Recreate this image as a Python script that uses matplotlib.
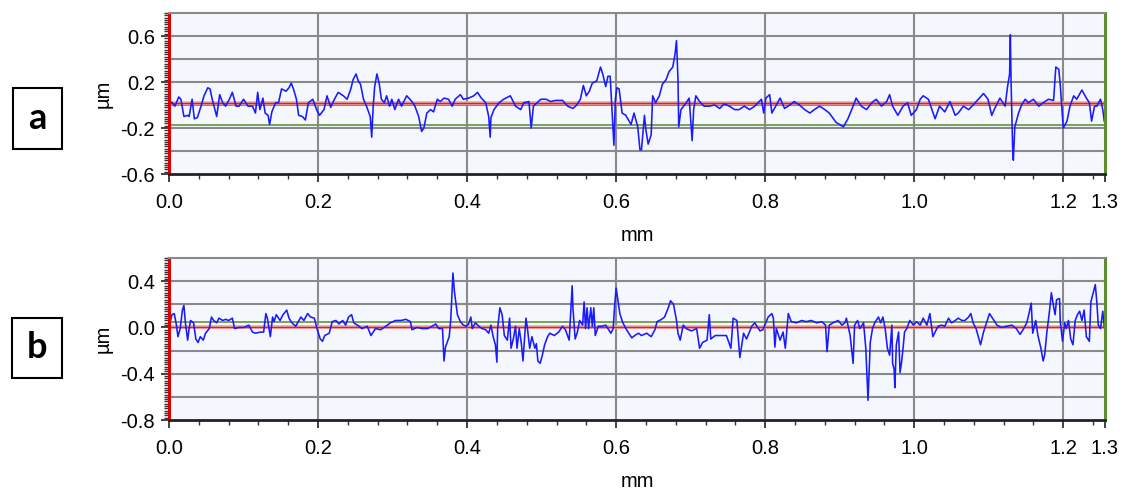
import numpy as np
import matplotlib
matplotlib.use("Agg")
import matplotlib.pyplot as plt
from matplotlib.ticker import MultipleLocator, FixedLocator
from matplotlib.patches import Rectangle

# profile a: position along the trace (mm) and height (um)
prof_a_x = [0.002, 0.004, 0.008, 0.013, 0.016, 0.020, 0.025, 0.027, 0.031, 0.034,
            0.038, 0.043, 0.047, 0.052, 0.055, 0.058, 0.064, 0.068, 0.072, 0.076,
            0.081, 0.085, 0.090, 0.094, 0.100, 0.106, 0.112, 0.116, 0.119, 0.122,
            0.126, 0.129, 0.133, 0.135, 0.138, 0.143, 0.147, 0.151, 0.157, 0.161,
            0.164, 0.167, 0.171, 0.174, 0.179, 0.183, 0.187, 0.193, 0.198, 0.202,
            0.208, 0.212, 0.217, 0.222, 0.227, 0.234, 0.239, 0.244, 0.247, 0.251,
            0.254, 0.257, 0.261, 0.265, 0.270, 0.272, 0.274, 0.276, 0.279, 0.282,
            0.285, 0.289, 0.292, 0.296, 0.299, 0.303, 0.308, 0.312, 0.319, 0.326,
            0.330, 0.335, 0.339, 0.342, 0.346, 0.351, 0.355, 0.360, 0.364, 0.369,
            0.375, 0.380, 0.384, 0.391, 0.395, 0.402, 0.409, 0.414, 0.419, 0.425,
            0.429, 0.431, 0.432, 0.436, 0.443, 0.449, 0.458, 0.465, 0.472, 0.476,
            0.483, 0.486, 0.489, 0.494, 0.499, 0.506, 0.512, 0.519, 0.528, 0.535,
            0.542, 0.547, 0.552, 0.556, 0.560, 0.564, 0.568, 0.574, 0.579, 0.582,
            0.586, 0.589, 0.592, 0.595, 0.597, 0.599, 0.601, 0.604, 0.608, 0.613,
            0.620, 0.624, 0.629, 0.632, 0.634, 0.638, 0.640, 0.643, 0.647, 0.649,
            0.653, 0.658, 0.662, 0.667, 0.671, 0.676, 0.679, 0.681, 0.683, 0.684,
            0.687, 0.694, 0.698, 0.702, 0.704, 0.707, 0.712, 0.718, 0.725, 0.732,
            0.739, 0.745, 0.752, 0.759, 0.765, 0.772, 0.779, 0.786, 0.795, 0.798,
            0.801, 0.806, 0.809, 0.814, 0.820, 0.826, 0.833, 0.839, 0.846, 0.853,
            0.860, 0.866, 0.873, 0.880, 0.886, 0.895, 0.900, 0.905, 0.911, 0.918,
            0.922, 0.929, 0.936, 0.943, 0.949, 0.956, 0.963, 0.967, 0.971, 0.978,
            0.985, 0.991, 0.996, 1.003, 1.008, 1.012, 1.019, 1.028, 1.034, 1.041,
            1.048, 1.055, 1.059, 1.066, 1.073, 1.079, 1.086, 1.093, 1.099, 1.104,
            1.108, 1.115, 1.122, 1.125, 1.128, 1.129, 1.130, 1.132, 1.133, 1.135,
            1.140, 1.144, 1.149, 1.153, 1.160, 1.167, 1.173, 1.180, 1.187, 1.190,
            1.194, 1.196, 1.200, 1.205, 1.209, 1.214, 1.218, 1.225, 1.231, 1.235,
            1.238, 1.242, 1.245, 1.250, 1.253, 1.255]
prof_a_z = [0.03, 0.02, -0.01, 0.07, 0.05, -0.10, -0.09, -0.10, 0.05, -0.12,
            -0.11, -0.01, 0.08, 0.15, 0.14, 0.05, -0.10, 0.09, 0.02, -0.01,
            0.05, 0.11, -0.01, -0.01, 0.05, -0.01, -0.01, -0.07, 0.11, -0.04,
            0.06, -0.07, -0.09, -0.17, -0.06, 0.02, 0.02, 0.14, 0.12, 0.15,
            0.19, 0.14, 0.05, -0.09, -0.10, -0.13, 0.02, 0.05, -0.04, -0.09,
            -0.04, 0.08, -0.02, 0.05, 0.11, 0.08, 0.05, 0.14, 0.22, 0.27,
            0.21, 0.18, 0.05, -0.01, -0.10, -0.28, -0.01, 0.16, 0.27, 0.19,
            0.05, 0.02, 0.08, -0.01, 0.05, -0.04, 0.05, -0.01, 0.08, 0.03,
            -0.01, -0.10, -0.23, -0.20, -0.07, -0.04, -0.06, 0.05, 0.03, 0.06,
            0.05, -0.01, 0.05, 0.09, 0.05, 0.06, 0.08, 0.11, 0.06, 0.02,
            -0.10, -0.28, -0.11, -0.04, 0.02, 0.05, 0.08, -0.01, -0.04, 0.02,
            0.03, -0.20, -0.01, 0.02, 0.05, 0.05, 0.03, 0.04, 0.04, -0.01,
            -0.03, 0.00, 0.05, 0.17, 0.08, 0.12, 0.19, 0.21, 0.33, 0.27,
            0.16, 0.25, 0.25, -0.10, -0.35, 0.05, 0.15, 0.14, -0.07, -0.09,
            -0.17, -0.07, -0.19, -0.39, -0.39, -0.09, -0.22, -0.34, -0.26, 0.08,
            0.02, 0.08, 0.18, 0.22, 0.29, 0.33, 0.44, 0.56, 0.22, -0.19,
            -0.04, 0.02, 0.06, -0.31, -0.04, 0.08, 0.03, -0.01, -0.01, 0.00,
            -0.03, 0.01, -0.01, -0.04, -0.04, -0.01, -0.04, -0.01, 0.05, -0.07,
            0.06, 0.09, -0.07, -0.01, 0.06, -0.03, 0.00, 0.03, 0.00, -0.04,
            -0.07, -0.04, -0.01, -0.04, -0.07, -0.15, -0.17, -0.19, -0.12, -0.01,
            0.06, -0.01, -0.04, 0.02, 0.05, -0.01, 0.03, 0.09, -0.01, -0.09,
            -0.01, 0.02, -0.09, -0.04, 0.05, 0.08, 0.05, -0.12, -0.01, -0.06,
            0.03, -0.09, -0.07, -0.01, -0.04, 0.00, 0.05, 0.10, 0.05, -0.09,
            -0.03, 0.06, -0.01, 0.15, 0.27, 0.61, 0.19, -0.36, -0.48, -0.19,
            -0.07, 0.00, 0.05, 0.02, 0.05, -0.01, 0.02, 0.05, 0.04, 0.33,
            0.31, 0.17, -0.20, -0.14, -0.01, 0.08, 0.05, 0.13, 0.06, 0.02,
            -0.14, -0.01, -0.01, 0.05, -0.04, -0.14]

# profile b
prof_b_x = [0.002, 0.004, 0.007, 0.010, 0.012, 0.015, 0.018, 0.020, 0.022, 0.025,
            0.027, 0.029, 0.033, 0.036, 0.039, 0.042, 0.046, 0.049, 0.054, 0.057,
            0.060, 0.064, 0.067, 0.072, 0.076, 0.080, 0.085, 0.088, 0.094, 0.101,
            0.107, 0.112, 0.116, 0.123, 0.127, 0.130, 0.132, 0.136, 0.139, 0.141,
            0.144, 0.149, 0.153, 0.158, 0.161, 0.165, 0.170, 0.177, 0.181, 0.186,
            0.190, 0.195, 0.199, 0.203, 0.206, 0.209, 0.215, 0.219, 0.224, 0.228,
            0.233, 0.237, 0.241, 0.245, 0.248, 0.255, 0.259, 0.266, 0.271, 0.277,
            0.284, 0.291, 0.297, 0.304, 0.311, 0.318, 0.324, 0.326, 0.333, 0.340,
            0.347, 0.353, 0.358, 0.362, 0.367, 0.368, 0.369, 0.371, 0.376, 0.378,
            0.380, 0.381, 0.383, 0.387, 0.391, 0.395, 0.399, 0.402, 0.405, 0.407,
            0.411, 0.416, 0.420, 0.425, 0.429, 0.432, 0.435, 0.438, 0.440, 0.441,
            0.444, 0.447, 0.450, 0.454, 0.457, 0.459, 0.462, 0.465, 0.467, 0.470,
            0.473, 0.475, 0.479, 0.481, 0.484, 0.487, 0.491, 0.493, 0.495, 0.498,
            0.501, 0.504, 0.508, 0.511, 0.517, 0.523, 0.528, 0.532, 0.537, 0.539,
            0.541, 0.542, 0.545, 0.548, 0.551, 0.555, 0.557, 0.559, 0.561, 0.563,
            0.566, 0.568, 0.570, 0.572, 0.576, 0.581, 0.586, 0.590, 0.593, 0.596,
            0.598, 0.600, 0.602, 0.605, 0.609, 0.614, 0.621, 0.625, 0.630, 0.634,
            0.641, 0.647, 0.652, 0.655, 0.661, 0.665, 0.670, 0.673, 0.677, 0.681,
            0.683, 0.686, 0.690, 0.694, 0.701, 0.708, 0.712, 0.716, 0.722, 0.725,
            0.727, 0.733, 0.739, 0.748, 0.754, 0.757, 0.762, 0.766, 0.771, 0.775,
            0.782, 0.786, 0.793, 0.797, 0.804, 0.809, 0.811, 0.813, 0.815, 0.820,
            0.824, 0.827, 0.831, 0.835, 0.842, 0.849, 0.855, 0.862, 0.869, 0.876,
            0.881, 0.883, 0.886, 0.891, 0.898, 0.903, 0.907, 0.909, 0.914, 0.918,
            0.920, 0.924, 0.927, 0.932, 0.935, 0.937, 0.938, 0.941, 0.944, 0.947,
            0.952, 0.955, 0.958, 0.961, 0.964, 0.967, 0.970, 0.971, 0.973, 0.974,
            0.976, 0.979, 0.981, 0.983, 0.985, 0.987, 0.990, 0.994, 0.999, 1.003,
            1.008, 1.012, 1.017, 1.021, 1.025, 1.028, 1.032, 1.037, 1.041, 1.046,
            1.050, 1.055, 1.059, 1.064, 1.068, 1.073, 1.076, 1.079, 1.083, 1.086,
            1.089, 1.093, 1.097, 1.101, 1.105, 1.111, 1.117, 1.124, 1.131, 1.137,
            1.142, 1.146, 1.151, 1.154, 1.157, 1.159, 1.163, 1.166, 1.170, 1.173,
            1.175, 1.178, 1.180, 1.182, 1.184, 1.187, 1.189, 1.191, 1.195, 1.196,
            1.199, 1.202, 1.204, 1.207, 1.210, 1.213, 1.216, 1.219, 1.222, 1.225,
            1.228, 1.231, 1.235, 1.237, 1.239, 1.243, 1.245, 1.247, 1.250, 1.253,
            1.255]
prof_b_z = [0.06, 0.11, 0.12, 0.02, -0.08, -0.01, 0.15, 0.19, 0.04, -0.11,
            -0.01, 0.06, 0.04, -0.10, -0.13, -0.08, -0.11, -0.05, -0.01, 0.09,
            0.06, 0.04, 0.08, 0.06, 0.07, 0.06, 0.08, -0.01, 0.00, 0.00,
            0.02, -0.04, -0.05, -0.04, -0.04, 0.12, 0.08, -0.08, 0.09, 0.05,
            0.11, 0.06, 0.11, 0.15, 0.08, 0.04, 0.01, 0.09, 0.06, 0.12,
            0.09, 0.08, -0.02, -0.10, -0.12, -0.07, -0.05, 0.05, 0.06, 0.03,
            0.06, 0.02, 0.09, 0.11, 0.04, 0.01, -0.01, 0.01, -0.07, -0.01,
            -0.02, 0.01, 0.04, 0.06, 0.06, 0.07, 0.05, -0.02, 0.00, -0.01,
            -0.01, 0.01, 0.03, -0.01, -0.01, -0.15, -0.29, -0.17, -0.08, 0.06,
            0.34, 0.47, 0.31, 0.11, 0.05, 0.02, 0.01, 0.03, 0.09, -0.01,
            0.04, 0.01, -0.01, -0.02, -0.05, 0.02, -0.08, -0.15, -0.30, -0.01,
            0.17, 0.11, -0.07, -0.11, 0.08, -0.18, -0.10, 0.01, -0.18, -0.01,
            -0.15, -0.29, 0.08, -0.01, -0.18, -0.08, -0.18, -0.14, -0.29, -0.31,
            -0.24, -0.15, -0.08, -0.05, -0.07, -0.04, 0.01, -0.02, -0.11, 0.12,
            0.36, 0.17, -0.10, -0.04, 0.06, 0.02, 0.22, -0.01, 0.17, -0.01,
            0.17, 0.01, 0.17, -0.07, 0.01, 0.01, 0.02, -0.02, -0.05, -0.01,
            0.19, 0.34, 0.25, 0.12, 0.04, -0.02, -0.09, -0.07, -0.05, -0.07,
            -0.05, -0.08, -0.02, 0.05, 0.07, 0.09, 0.17, 0.23, 0.20, 0.06,
            -0.05, -0.11, 0.02, -0.01, -0.03, -0.01, -0.18, -0.13, -0.11, 0.11,
            -0.10, -0.07, -0.07, -0.07, -0.18, 0.08, 0.06, -0.26, -0.05, -0.10,
            0.01, 0.04, -0.03, -0.02, 0.09, 0.12, 0.08, -0.17, -0.01, -0.11,
            -0.04, -0.18, 0.12, 0.05, 0.04, 0.06, 0.05, 0.06, 0.04, 0.05,
            0.02, -0.21, 0.02, 0.04, 0.06, 0.02, 0.04, 0.08, -0.07, -0.31,
            0.02, 0.06, -0.01, 0.04, -0.18, -0.47, -0.63, -0.13, -0.01, 0.04,
            0.09, 0.04, 0.09, -0.01, -0.18, -0.24, 0.02, -0.31, -0.36, -0.52,
            -0.15, -0.04, -0.39, -0.30, -0.18, -0.04, -0.01, 0.06, 0.02, 0.05,
            0.02, 0.08, 0.02, 0.12, -0.08, -0.04, 0.01, 0.02, 0.01, 0.08,
            0.04, 0.06, 0.08, 0.06, 0.06, 0.09, 0.12, 0.04, -0.01, -0.08,
            -0.15, -0.04, 0.04, 0.12, 0.08, 0.02, 0.00, 0.01, 0.02, -0.01,
            -0.06, -0.02, 0.04, 0.12, 0.21, -0.05, 0.06, -0.07, -0.18, -0.29,
            -0.24, -0.04, 0.06, 0.17, 0.30, 0.18, 0.11, 0.24, 0.25, 0.05,
            -0.12, 0.04, -0.01, 0.06, -0.10, -0.15, 0.06, 0.11, 0.14, 0.06,
            0.15, -0.08, -0.12, 0.22, 0.27, 0.37, 0.22, 0.02, -0.01, 0.14,
            0.01]

# red / green reference levels for each profile (um)
ref_a = [0.02, -0.17]
ref_b = [0.0, 0.05]

x_end = 1.256
xtick_vals = [0.0, 0.2, 0.4, 0.6, 0.8, 1.0, 1.2, x_end]
xtick_text = ["0.0", "0.2", "0.4", "0.6", "0.8", "1.0", "1.2", "1.3"]

ylim_a = (-0.6, 0.8)
ytick_a = [-0.6, -0.2, 0.2, 0.6]
ylim_b = (-0.8, 0.6)
ytick_b = [-0.8, -0.4, 0.0, 0.4]

W, H = 1126, 492
plt.rcParams["font.family"] = ["Liberation Sans", "DejaVu Sans"]
plt.rcParams["axes.unicode_minus"] = False
FS = 14.5


def px_box(left, top, right, bottom):
    # pixel box -> figure fraction [x0, y0, w, h]
    return [left / W, (H - bottom) / H, (right - left) / W, (bottom - top) / H]


def draw_profile(ax, x, z, ylim, yticks, refs):
    ax.set_facecolor("#f4f8fe")
    ax.set_xlim(0, x_end)
    ax.set_ylim(*ylim)

    # horizontal grid every 0.2 um
    for g in np.arange(ylim[0] + 0.2, ylim[1] - 0.01, 0.2):
        ax.axhline(g, color="#8a8a8a", lw=1.5, zorder=1)
    for g in xtick_vals[1:-1]:
        ax.axvline(g, color="#8a8a8a", lw=1.5, zorder=1)

    # reference lines
    ax.axhline(refs[0], color="#f5a5a5", lw=2.6, zorder=2)
    ax.axhline(refs[0], color="#e02020", lw=1.0, zorder=2)
    ax.axhline(refs[1], color="#6f9c4c", lw=1.3, zorder=2)

    ax.plot(x, z, color="#1a1aff", lw=1.15, zorder=3)

    ax.xaxis.set_major_locator(FixedLocator(xtick_vals))
    ax.set_xticklabels(xtick_text)
    ax.xaxis.set_minor_locator(MultipleLocator(0.04))
    ax.yaxis.set_major_locator(FixedLocator(yticks))
    ax.set_yticklabels(["%.1f" % v for v in yticks])
    ax.yaxis.set_minor_locator(MultipleLocator(0.02))

    ax.tick_params(axis="both", which="major", direction="out", length=6,
                   width=1.3, color="#333333", labelsize=FS, pad=4)
    ax.tick_params(axis="both", which="minor", direction="out", length=3.5,
                   width=1.0, color="#333333")
    ax.tick_params(axis="x", which="major", pad=8)

    ax.spines["left"].set_color("#e00000")
    ax.spines["left"].set_linewidth(2.2)
    ax.spines["right"].set_color("#5e8c30")
    ax.spines["right"].set_linewidth(2.2)
    ax.spines["top"].set_color("#8a8a8a")
    ax.spines["top"].set_linewidth(1.5)
    ax.spines["bottom"].set_color("#222222")
    ax.spines["bottom"].set_linewidth(2.0)
    for s in ax.spines.values():
        s.set_zorder(4)

    ax.set_xlabel("mm", fontsize=FS, labelpad=9.5)
    ax.set_ylabel("µm", fontsize=FS, labelpad=6)


fig = plt.figure(figsize=(W / 100, H / 100), dpi=100)
ax_a = fig.add_axes(px_box(169, 13, 1105, 174))
ax_b = fig.add_axes(px_box(169, 258, 1105, 420))

draw_profile(ax_a, prof_a_x, prof_a_z, ylim_a, ytick_a, ref_a)
draw_profile(ax_b, prof_b_x, prof_b_z, ylim_b, ytick_b, ref_b)

# boxed panel letters
for letter, box in [("a", (13, 88, 62, 149)), ("b", (12, 318, 62, 378))]:
    r = px_box(*box)
    fig.add_artist(Rectangle((r[0], r[1]), r[2], r[3], transform=fig.transFigure,
                             fill=False, lw=1.5, edgecolor="black"))
    fig.text(r[0] + r[2] / 2, r[1] + r[3] / 2, letter, ha="center", va="center",
             fontsize=26, fontweight="bold", family=["Lato", "DejaVu Sans"])

fig.savefig("out.png", dpi=100)
